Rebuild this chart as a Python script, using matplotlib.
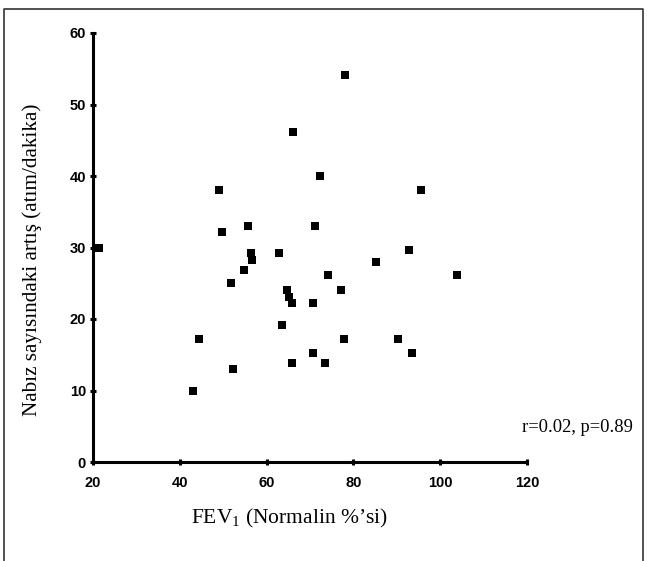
import matplotlib.pyplot as plt
from matplotlib.lines import Line2D

# FEV1 (% of normal) vs. increase in pulse
fev1 = [78.1, 66.1, 72.2, 49.1, 95.5, 55.7, 71.2, 49.7, 21.3, 56.3, 56.6, 62.8,
        92.8, 85.3, 54.8, 74.1, 103.8, 51.8, 64.6, 65.2, 65.9, 70.8, 77.2, 63.5,
        44.4, 77.9, 90.3, 70.8, 93.5, 65.9, 73.4, 52.3, 43.0]
nabiz = [54.1, 46.2, 40.0, 38.0, 38.1, 33.0, 33.0, 32.1, 29.9, 29.2, 28.3, 29.2,
         29.7, 28.0, 26.9, 26.2, 26.2, 25.1, 24.1, 23.1, 22.2, 22.2, 24.1, 19.1,
         17.2, 17.2, 17.2, 15.2, 15.2, 13.8, 13.8, 13.0, 10.0]
xticks = [20, 40, 60, 80, 100, 120]
yticks = [0, 10, 20, 30, 40, 50, 60]

plt.rcParams['mathtext.fontset'] = 'custom'
plt.rcParams['mathtext.rm'] = 'Liberation Serif'
plt.rcParams['mathtext.default'] = 'regular'

fig = plt.figure(figsize=(6.5, 5.61), dpi=100)
ax = fig.add_axes([93 / 650, 99 / 561, 434 / 650, 429 / 561])

ax.plot(fev1, nabiz, 's', color='black', markersize=6.3, markeredgewidth=0, clip_on=False)

ax.set_xlim(20, 120)
ax.set_ylim(0, 60)
ax.set_xticks(xticks)
ax.set_yticks(yticks)
for s in ['top', 'right']:
    ax.spines[s].set_visible(False)
for s in ['left', 'bottom']:
    ax.spines[s].set_linewidth(2.2)
ax.tick_params(direction='inout', length=4, width=2.2)
ax.tick_params(axis='x', pad=8)
ax.tick_params(axis='y', pad=3)
for lbl in ax.get_xticklabels() + ax.get_yticklabels():
    lbl.set_fontweight('bold')
    lbl.set_fontsize(10.5)
    lbl.set_family('Liberation Sans')

fig.text(289 / 650, 1 - 518 / 561, 'FEV$_1$ (Normalin %’si)', ha='center', va='center',
         family='Liberation Serif', fontsize=15.5)
fig.text(32 / 650, 1 - 260 / 561, 'Nabız sayısındaki artış (atım/dakika)', ha='center',
         va='center', rotation=90, family='Liberation Serif', fontsize=15.2)
fig.text(577 / 650, 1 - 427 / 561, 'r=0.02, p=0.89', ha='center', va='center',
         family='Liberation Serif', fontsize=13.3)

# frame round the figure (bottom edge lies off the picture)
bx = [4 / 650, 4 / 650, 643 / 650, 643 / 650]
by = [0, 1 - 9 / 561, 1 - 9 / 561, 0]
fig.add_artist(Line2D(bx, by, color='#333333', linewidth=1.2, transform=fig.transFigure))

plt.savefig('out.png', dpi=100)
